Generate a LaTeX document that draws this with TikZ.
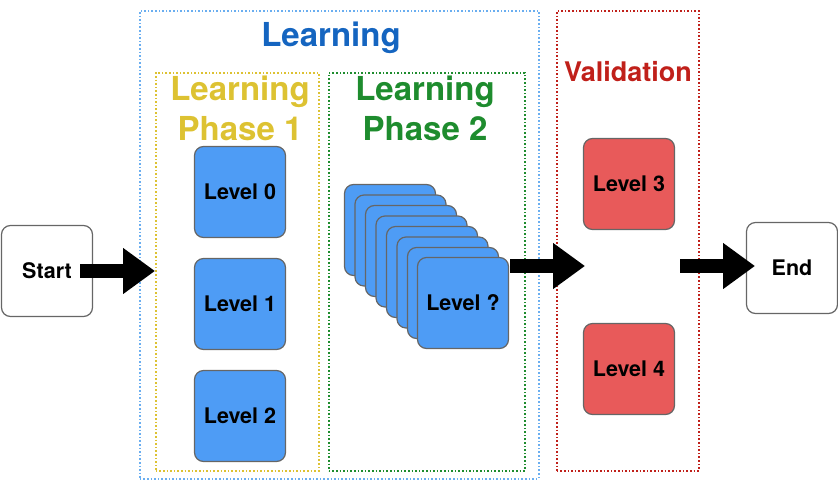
\documentclass[tikz,border=0pt]{standalone}
\usepackage{fontspec}
\setmainfont{TeX Gyre Heros}
\usetikzlibrary{arrows.meta,positioning}
\definecolor{lvlblue}{HTML}{4E9CF5}
\definecolor{lvlred}{HTML}{E85A5A}
\definecolor{tblue}{HTML}{1565C0}
\definecolor{tyellow}{HTML}{DDC232}
\definecolor{tgreen}{HTML}{1E8C2E}
\definecolor{tred}{HTML}{C0201A}
\definecolor{fblue}{HTML}{6AAEF0}
\begin{document}
\begin{tikzpicture}[x=1pt,y=-1pt,
  card/.style={draw=gray!80!black,line width=1.2pt,rounded corners=9pt,minimum width=91pt,minimum height=91pt,font=\fontsize{21.5}{24}\selectfont\bfseries,inner sep=0pt},
  blu/.style={card,fill=lvlblue},
  rd/.style={card,fill=lvlred},
  wht/.style={card,fill=white},
  frame/.style={draw,dotted,line width=1.6pt},
  ttl/.style={align=center},
  bigarrow/.style={line width=14pt,-{Triangle[length=32pt,width=44pt]}}]
\useasboundingbox (0,0) rectangle (838,488);
\node[frame,draw=fblue,minimum width=399pt,minimum height=468pt,anchor=north west] (learn) at (139,10) {};
\node[frame,draw=tyellow,minimum width=163pt,minimum height=398pt,anchor=north west] (ph1) at (155,72) {};
\node[frame,draw=tgreen,minimum width=196pt,minimum height=398pt,anchor=north west] (ph2) at (328,72) {};
\node[frame,draw=tred,minimum width=142pt,minimum height=460pt,anchor=north west] (val) at (556,10) {};
\node[ttl,text=tblue,font=\fontsize{33}{36}\selectfont\bfseries] (tl) at (331,38) {Learning};
\node[ttl,text=tyellow,font=\fontsize{33}{40}\selectfont\bfseries] (t1) at (240,108) {Learning\\Phase 1};
\node[ttl,text=tgreen,font=\fontsize{33}{40}\selectfont\bfseries] (t2) at (425,108) {Learning\\Phase 2};
\node[ttl,text=tred,font=\fontsize{27}{30}\selectfont\bfseries] (tv) at (628,72) {Validation};
\node[wht] (start) at (47,271) {Start};
\node[wht] (end) at (792,268) {End};
\node[blu] (l0) at (240,192) {Level 0};
\node[blu] (l1) at (240,304) {Level 1};
\node[blu] (l2) at (240,416) {Level 2};
\foreach \i in {0,...,6} {\node[blu] (s\i) at ({390+10.5*\i},{230+10.5*\i}) {};}
\node[blu] (lq) at (463,303) {Level ?};
\node[rd] (l3) at (629,184) {Level 3};
\node[rd] (l4) at (629,369) {Level 4};
\coordinate (a1s) at (80,271); \coordinate (a1e) at (155,271);
\coordinate (a2s) at (510,266); \coordinate (a2e) at (585,266);
\coordinate (a3s) at (680,266); \coordinate (a3e) at (755,266);
\draw[bigarrow] (a1s) -- (a1e);
\draw[bigarrow] (a2s) -- (a2e);
\draw[bigarrow] (a3s) -- (a3e);
\end{tikzpicture}
\end{document}
